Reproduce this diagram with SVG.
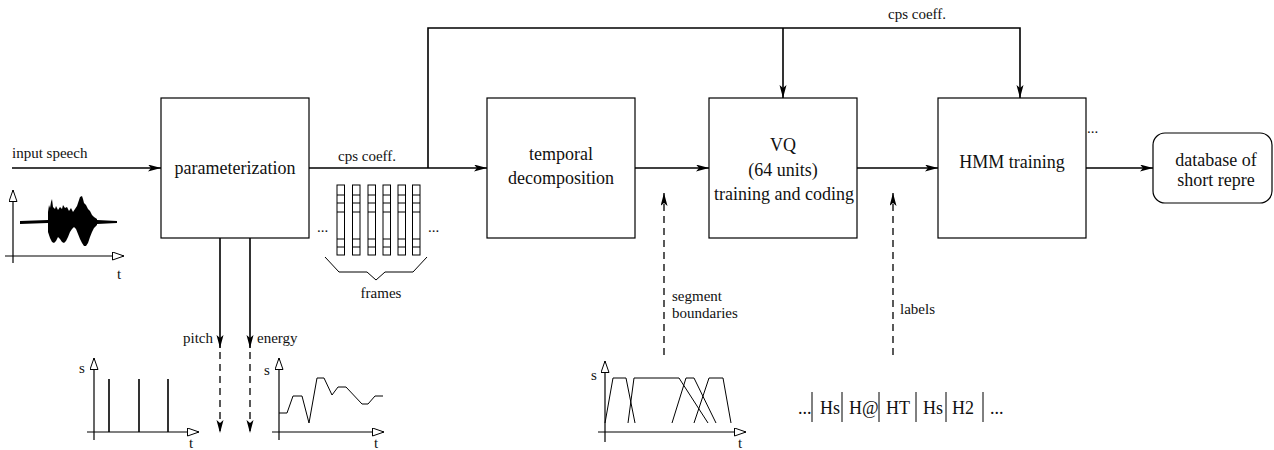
<svg xmlns="http://www.w3.org/2000/svg" width="1274" height="450" viewBox="0 0 1274 450">
<defs>
<marker id="ah" markerUnits="userSpaceOnUse" markerWidth="14" markerHeight="8" refX="13" refY="3.5" orient="auto"><path d="M0,0 L13,3.5 L0,7 L3,3.5 z" fill="#000"/></marker>
<marker id="oh" markerUnits="userSpaceOnUse" markerWidth="14" markerHeight="10" refX="12" refY="4.5" orient="auto"><path d="M0.5,0.5 L12,4.5 L0.5,8.5 z" fill="#fff" stroke="#000" stroke-width="1"/></marker>
<style>
.box{fill:#fff;stroke:#000;stroke-width:1.2}
.lbl{font-size:18px;fill:#111}
.sm{font-size:15px;fill:#111}
.c{fill:none;stroke:#000;stroke-width:1.6}
.d{fill:none;stroke:#000;stroke-width:1.3;stroke-dasharray:7,5}
.ax{fill:none;stroke:#000;stroke-width:1.2}
.thin{fill:none;stroke:#000;stroke-width:1}
</style>
</defs>

<g id="connectors">
<path class="c" d="M12,168 H161" marker-end="url(#ah)"/>
<path class="c" d="M309,168 H487" marker-end="url(#ah)"/>
<path class="c" d="M428,168 V28 H1020 V98" marker-end="url(#ah)"/>
<path class="c" d="M783,28 V98" marker-end="url(#ah)"/>
<path class="c" d="M635,168 H709" marker-end="url(#ah)"/>
<path class="c" d="M857,168 H938" marker-end="url(#ah)"/>
<path class="c" d="M1086,168 H1153" marker-end="url(#ah)"/>
<path class="c" d="M220,238 V348" marker-end="url(#ah)"/>
<path class="c" d="M250,238 V348" marker-end="url(#ah)"/>
<path class="d" d="M220,352 V433" marker-end="url(#ah)"/>
<path class="d" d="M250,352 V433" marker-end="url(#ah)"/>
<path class="d" d="M664,355 V193" marker-end="url(#ah)"/>
<path class="d" d="M893,355 V193" marker-end="url(#ah)"/>
<g font-family="Liberation Serif, Times New Roman, serif">
<text class="sm" x="12" y="158">input speech</text>
<text class="sm" x="338" y="161">cps coeff.</text>
<text class="sm" x="888" y="19">cps coeff.</text>
<text class="sm" x="213" y="343" text-anchor="end">pitch</text>
<text class="sm" x="257" y="343">energy</text>
<text class="sm" x="672" y="301">segment</text>
<text class="sm" x="672" y="318">boundaries</text>
<text class="sm" x="900" y="314">labels</text>
<text class="sm" x="1087" y="133">...</text>
</g>
</g>

<g id="parameterization" font-family="Liberation Serif, Times New Roman, serif">
<rect class="box" x="161" y="98" width="148" height="140"/>
<text class="lbl" x="235" y="174" text-anchor="middle">parameterization</text>
</g>

<g id="temporal-decomposition" font-family="Liberation Serif, Times New Roman, serif">
<rect class="box" x="487" y="98" width="148" height="140"/>
<text class="lbl" x="561" y="160" text-anchor="middle">temporal</text>
<text class="lbl" x="561" y="184" text-anchor="middle">decomposition</text>
</g>

<g id="vq" font-family="Liberation Serif, Times New Roman, serif">
<rect class="box" x="709" y="98" width="148" height="140"/>
<text class="lbl" x="783" y="151" text-anchor="middle">VQ</text>
<text class="lbl" x="783" y="176" text-anchor="middle">(64 units)</text>
<text class="lbl" x="784" y="200" text-anchor="middle">training and coding</text>
</g>

<g id="hmm-training" font-family="Liberation Serif, Times New Roman, serif">
<rect class="box" x="938" y="98" width="148" height="140"/>
<text class="lbl" x="1012" y="168" text-anchor="middle">HMM training</text>
</g>

<g id="database" font-family="Liberation Serif, Times New Roman, serif">
<rect class="box" x="1153" y="133" width="119" height="70" rx="12" ry="12"/>
<text class="lbl" x="1216" y="166" text-anchor="middle">database of</text>
<text class="lbl" x="1216" y="186" text-anchor="middle">short repre</text>
</g>

<g id="speech-plot" font-family="Liberation Serif, Times New Roman, serif">
<path class="ax" d="M13,263 V190" marker-end="url(#oh)"/>
<path class="ax" d="M5,256 H124" marker-end="url(#oh)"/>
<text class="sm" x="117" y="279">t</text>
<path d="M20,221 L48,220 L48,223 L20,224 z M97,220 L117,221 L117,223 L97,224 z" fill="#000"/>
<path d="M48,212 L49,205 L50,208 L51,202 L52,199 L53,207 L55,209 L56,206 L58,210 L60,207 L62,209 L63,205 L65,208 L67,207 L69,211 L71,208 L73,212 L75,209 L77,206 L78,203 L80,197 L82,196 L83,199 L84,203 L86,205 L88,209 L90,211 L92,215 L94,217 L97,219 L97,225 L94,228 L92,232 L90,237 L88,243 L86,246 L84,246 L82,243 L80,239 L78,234 L76,229 L74,227 L72,229 L70,232 L68,237 L66,241 L64,243 L62,242 L60,239 L58,237 L56,241 L54,243 L52,242 L50,238 L48,232 z" fill="#000"/>
</g>

<g id="frames" font-family="Liberation Serif, Times New Roman, serif">
<g class="thin">
<rect x="337" y="185" width="7.5" height="70"/>
<rect x="352.5" y="185" width="7.5" height="70"/>
<rect x="368" y="185" width="7.5" height="70"/>
<rect x="383" y="185" width="7.5" height="70"/>
<rect x="398" y="185" width="7.5" height="70"/>
<rect x="412.5" y="185" width="7.5" height="70"/>
<path d="M337,195 H344.5 M337,203 H344.5 M337,212 H344.5 M337,239 H344.5 M337,247 H344.5
M352.5,195 H360 M352.5,203 H360 M352.5,212 H360 M352.5,239 H360 M352.5,247 H360
M368,195 H375.5 M368,203 H375.5 M368,212 H375.5 M368,239 H375.5 M368,247 H375.5
M383,195 H390.5 M383,203 H390.5 M383,212 H390.5 M383,239 H390.5 M383,247 H390.5
M398,195 H405.5 M398,203 H405.5 M398,212 H405.5 M398,239 H405.5 M398,247 H405.5
M412.5,195 H420 M412.5,203 H420 M412.5,212 H420 M412.5,239 H420 M412.5,247 H420"/>
<path d="M325,257 L339,272 H367 L376,280 L385,272 H413 L427,257"/>
</g>
<text class="sm" x="317" y="232">...</text>
<text class="sm" x="428" y="232">...</text>
<text class="sm" x="381" y="298" text-anchor="middle">frames</text>
</g>

<g id="pitch-plot" font-family="Liberation Serif, Times New Roman, serif">
<path class="ax" d="M94,440 V358" marker-end="url(#oh)"/>
<path class="ax" d="M87,432 H199" marker-end="url(#oh)"/>
<path class="c" d="M109,379 V432 M139,379 V432 M168,379 V432"/>
<text class="sm" x="79" y="373">s</text>
<text class="sm" x="189" y="448">t</text>
</g>

<g id="energy-plot" font-family="Liberation Serif, Times New Roman, serif">
<path class="ax" d="M279,440 V358" marker-end="url(#oh)"/>
<path class="ax" d="M272,432 H384" marker-end="url(#oh)"/>
<polyline class="thin" stroke-width="1.2" points="279,413 287,413 293,396 302,396 309,423 317,378 324,378 332,395 338,387 346,387 362,404 368,404 375,396 383,396"/>
<text class="sm" x="264" y="375">s</text>
<text class="sm" x="374" y="448">t</text>
</g>

<g id="segment-plot" font-family="Liberation Serif, Times New Roman, serif">
<path class="ax" d="M605,442 V361" marker-end="url(#oh)"/>
<path class="ax" d="M598,432 H746" marker-end="url(#oh)"/>
<g class="thin" stroke-width="1.2">
<polyline points="605,423 613,378 626,378 635,423"/>
<polyline points="628,423 634,378 679,378 708,423"/>
<polyline points="672,423 686,378 694,378 716,423"/>
<polyline points="694,423 709,378 723,378 731,423"/>
</g>
<text class="sm" x="591" y="380">s</text>
<text class="sm" x="738" y="448">t</text>
</g>

<g id="label-sequence" font-family="Liberation Serif, Times New Roman, serif">
<path class="thin" stroke-width="1.2" d="M812,392 V422 M842,392 V422 M879,392 V422 M916,392 V422 M946,392 V422 M983,392 V422"/>
<text class="lbl" x="798" y="414">...</text>
<text class="lbl" x="820" y="414">Hs</text>
<text class="lbl" x="849" y="414">H@</text>
<text class="lbl" x="886" y="414">HT</text>
<text class="lbl" x="923" y="414">Hs</text>
<text class="lbl" x="952" y="414">H2</text>
<text class="lbl" x="990" y="414">...</text>
</g>
</svg>
